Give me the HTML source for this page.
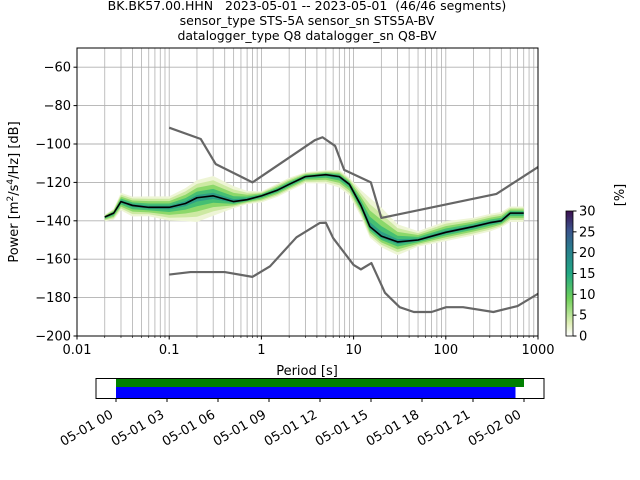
<!DOCTYPE html>
<html><head><meta charset="utf-8">
<style>
body{margin:0;background:#fff;}
svg{display:block;font-family:"DejaVu Sans","Liberation Sans",sans-serif;}
.pre{white-space:pre;}
</style></head>
<body>
<svg id="c" width="640" height="480" viewBox="0 0 640 480">
<defs>
<linearGradient id="cb" x1="0" y1="1" x2="0" y2="0">
<stop offset="0" stop-color="#ffffff"/>
<stop offset="0.1" stop-color="#e0efb8"/>
<stop offset="0.3" stop-color="#6fd05a"/>
<stop offset="0.5" stop-color="#22a884"/>
<stop offset="0.7" stop-color="#2a7c8e"/>
<stop offset="0.85" stop-color="#3b528b"/>
<stop offset="1" stop-color="#3b0f4f"/>
</linearGradient>
<clipPath id="pc"><rect x="77" y="48" width="461" height="288"/></clipPath>
</defs>
<g id="g"></g>
</svg>
<script>
// data
const periods = [0.02,0.025,0.03,0.04,0.06,0.1,0.15,0.2,0.3,0.5,0.7,1,1.5,2,3,5,7,9,12,15,20,30,50,100,200,300,400,500,700];
const meanDb  = [-138,-136,-130,-132,-133,-133,-131,-128,-127,-130,-129,-127,-124,-121,-117,-116,-117,-121,-132,-143,-148,-151,-150,-146,-143,-141,-140,-136,-136];
const upperDb = [-137,-134,-126,-128,-128,-128,-124,-120,-118,-123,-125,-125,-121,-118,-115,-114,-114,-118,-125,-130,-135,-143,-146,-141,-139,-137,-136,-133,-133];
const lowerDb = [-140,-139,-134,-137,-137,-139,-139,-139,-136,-133,-131,-130,-127,-124,-120,-120,-122,-126,-137,-148,-153,-157,-153,-150,-147,-145,-143,-140,-140];
const nhnmP = [0.1,0.22,0.32,0.8,3.8,4.6,6.3,7.9,15.4,20,354,1000];
const nhnmDb = [-91.5,-97.4,-110.5,-120,-98,-96.5,-101,-113.5,-120,-138.5,-126,-112];
const nlnmP = [0.1,0.17,0.4,0.8,1.24,2.4,4.3,5,6,10,12,15.6,21.9,31.6,45,70,101,154,328,600,1000];
const nlnmDb = [-168,-166.7,-166.7,-169.2,-163.7,-148.6,-141.1,-141,-149,-163,-165.3,-162,-177.5,-185,-187.5,-187.5,-185,-185,-187.5,-184.4,-178];
const yTicks = [-200,-180,-160,-140,-120,-100,-80,-60];
const xTickLabels = ["0.01","0.1","1","10","100","1000"];
const cbTicks = [0,5,10,15,20,25,30];
const timeLabels = ["05-01 00","05-01 03","05-01 06","05-01 09","05-01 12","05-01 15","05-01 18","05-01 21","05-02 00"];
const timeHours = [0,3,6,9,12,15,18,21,24];
const greenSpan = [0,24];
const blueSpan = [0,23.5];

const NS="http://www.w3.org/2000/svg";
const g=document.getElementById('g');
function mk(t,a,p){const e=document.createElementNS(NS,t);for(const k in a)e.setAttribute(k,a[k]);(p||g).appendChild(e);return e;}
const X0=77,X1=538,Y0=48,Y1=336;
const xs=p=>X0+(Math.log10(p)+2)/5*(X1-X0);
const ys=d=>Y1-(d+200)/150*(Y1-Y0);
const tx=h=>116+h/24*(524-116);

for(let d=-2;d<3;d++)for(let m=1;m<10;m++){const x=xs(m*Math.pow(10,d));
 const l=mk('line',{x1:x,x2:x,y1:Y0,y2:Y1,stroke:'#b0b0b0','stroke-width':0.8});
 }
yTicks.forEach(v=>{const l=mk('line',{x1:X0,x2:X1,y1:ys(v),y2:ys(v),stroke:'#b0b0b0','stroke-width':0.9});
 });

const pc=mk('g',{'clip-path':'url(#pc)'});

function band(f,color){let pts=[];
 for(let i=0;i<periods.length;i++)pts.push(xs(periods[i])+','+ys(meanDb[i]+(upperDb[i]-meanDb[i])*f));
 for(let i=periods.length-1;i>=0;i--)pts.push(xs(periods[i])+','+ys(meanDb[i]+(lowerDb[i]-meanDb[i])*f));
 const p=mk('polygon',{points:pts.join(' '),fill:color},pc);
 }
band(1.15,'#eef5d6');band(0.9,'#cde9a2');band(0.65,'#8cd86a');band(0.4,'#45bf72');band(0.18,'#2e9f86');
function line(P,D,color,w,name){const l=mk('polyline',{points:P.map((p,i)=>xs(p)+','+ys(D[i])).join(' '),fill:'none',stroke:color,'stroke-width':w,'stroke-linejoin':'round'},pc);
 }
line(periods,meanDb,'#000',1.6,'mean-curve');
line(nhnmP,nhnmDb,'#666',2.2,'nhnm-curve');
line(nlnmP,nlnmDb,'#666',2.2,'nlnm-curve');

const fr=mk('rect',{x:X0,y:Y0,width:X1-X0,height:Y1-Y0,fill:'none',stroke:'#000','stroke-width':1});

yTicks.forEach(v=>{mk('line',{x1:X0-3.5,x2:X0,y1:ys(v),y2:ys(v),stroke:'#000'});
 const t=mk('text',{x:X0-6,y:ys(v)+4.5,'font-size':13,'text-anchor':'end'});t.textContent='\u2212'+Math.abs(v);
 });
xTickLabels.forEach((s,i)=>{const x=xs(Math.pow(10,i-2));mk('line',{x1:x,x2:x,y1:Y1,y2:Y1+3.5,stroke:'#000'});
 const t=mk('text',{x:x,y:Y1+18,'font-size':13,'text-anchor':'middle'});t.textContent=s;
 });
for(let d=-2;d<3;d++)for(let m=2;m<10;m++){const x=xs(m*Math.pow(10,d));mk('line',{x1:x,x2:x,y1:Y1,y2:Y1+2,stroke:'#000','stroke-width':0.6});}
let t=mk('text',{x:307,y:375,'font-size':13,'text-anchor':'middle'});t.textContent='Period [s]';

t=mk('text',{x:0,y:0,'font-size':13,'text-anchor':'middle',transform:'translate(18,192) rotate(-90)'});
t.innerHTML='Power [m<tspan dy="-5" font-size="9">2</tspan><tspan dy="5">/s</tspan><tspan dy="-5" font-size="9">4</tspan><tspan dy="5">/Hz] [dB]</tspan>';


["BK.BK57.00.HHN   2023-05-01 -- 2023-05-01  (46/46 segments)","sensor_type STS-5A sensor_sn STS5A-BV","datalogger_type Q8 datalogger_sn Q8-BV"].forEach((s,i)=>{
 const tt=mk('text',{x:307,y:10+i*15,'font-size':12.5,'text-anchor':'middle','class':'pre'});tt.textContent=s;
 });

const cb=mk('rect',{x:566,y:211,width:7,height:125,fill:'url(#cb)',stroke:'#000','stroke-width':0.8});

cbTicks.forEach(v=>{const y=336-v/30*125;mk('line',{x1:573,x2:576.5,y1:y,y2:y,stroke:'#000'});
 const tt=mk('text',{x:579,y:y+4.5,'font-size':13});tt.textContent=v;
 });
t=mk('text',{x:0,y:0,'font-size':13,'text-anchor':'middle',transform:'translate(624,195) rotate(-90)'});t.textContent='[%]';


let r=mk('rect',{x:tx(greenSpan[0]),y:379,width:tx(greenSpan[1])-tx(greenSpan[0]),height:8,fill:'#008000'});

r=mk('rect',{x:tx(blueSpan[0]),y:387,width:tx(blueSpan[1])-tx(blueSpan[0]),height:11,fill:'#0000ff'});

r=mk('rect',{x:96,y:378.5,width:448,height:20,fill:'none',stroke:'#000','stroke-width':1});

timeLabels.forEach((s,i)=>{const x=tx(timeHours[i]);mk('line',{x1:x,x2:x,y1:398.5,y2:402,stroke:'#000'});
 const tt=mk('text',{x:0,y:0,'font-size':13,'text-anchor':'end',transform:`translate(${x-2},${417}) rotate(-30)`});tt.textContent=s;
 });
</script>
</body></html>
